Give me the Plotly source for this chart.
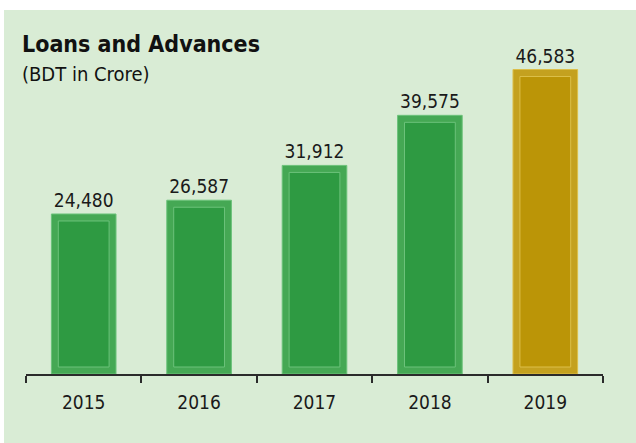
import plotly.graph_objects as go

years = ["2015", "2016", "2017", "2018", "2019"]
values = [24480, 26587, 31912, 39575, 46583]
bar_colors = ["#2e9a42", "#2e9a42", "#2e9a42", "#2e9a42", "#bb9507"]
frame_colors = ["#45a854", "#45a854", "#45a854", "#45a854", "#c4a11f"]
line_colors = ["#6cc27a", "#6cc27a", "#6cc27a", "#6cc27a", "#dcbf4a"]

FONT = "Liberation Sans Narrow, DejaVu Sans Condensed, Noto Sans, sans-serif"

W, H = 636, 443
L, R, T, B = 26, 33, 40, 69
plot_h = H - T - B
ymax = 51100
inset = 7 * ymax / plot_h  # bevel inset in data units

fig = go.Figure()
# outer frame bar
fig.add_trace(go.Bar(
    x=years, y=values, width=0.56,
    marker=dict(color=frame_colors, line=dict(color=line_colors, width=1)),
    texttemplate="%{y:,}", textposition="outside",
    textfont=dict(family=FONT, size=19, color="#1a1a1a"),
    cliponaxis=False, hoverinfo="skip", showlegend=False,
))
# inner core bar
fig.add_trace(go.Bar(
    x=years, y=[v - 2 * inset for v in values], base=[inset] * len(values),
    width=0.44,
    marker=dict(color=bar_colors, line=dict(color=line_colors, width=1)),
    hoverinfo="skip", showlegend=False,
))

pw = W - L - R
fig.add_shape(type="rect", xref="paper", yref="paper",
              x0=(4 - L) / pw, x1=(W - L) / pw,
              y0=-(B) / plot_h, y1=(H - 10 - B) / plot_h,
              fillcolor="#d9ecd5", line_width=0, layer="below")

fig.add_annotation(text="<b>Loans and Advances</b>", xref="paper", yref="paper",
                   x=(20 - L) / pw, y=(H - B - 44) / plot_h, xanchor="left", yanchor="middle",
                   showarrow=False, font=dict(family=FONT, size=23, color="#111111"))
fig.add_annotation(text="(BDT in Crore)", xref="paper", yref="paper",
                   x=(20 - L) / pw, y=(H - B - 74) / plot_h, xanchor="left", yanchor="middle",
                   showarrow=False, font=dict(family=FONT, size=20, color="#111111"))

fig.update_layout(
    width=W, height=H, barmode="overlay",
    margin=dict(l=L, r=R, t=T, b=B),
    paper_bgcolor="white", plot_bgcolor="rgba(0,0,0,0)",
    font=dict(family=FONT),
    xaxis=dict(type="category", showline=True, linecolor="#2b2b2b", linewidth=2,
               ticks="outside", tickson="boundaries", ticklen=7, tickwidth=2,
               tickcolor="#2b2b2b", showgrid=False,
               tickfont=dict(family=FONT, size=19, color="#1a1a1a"),
               ticklabelstandoff=10),
    yaxis=dict(range=[0, ymax], visible=False, showgrid=False),
)

fig.write_html("out.html", config={"displayModeBar": False},
               post_script="document.body.style.margin='0';")
